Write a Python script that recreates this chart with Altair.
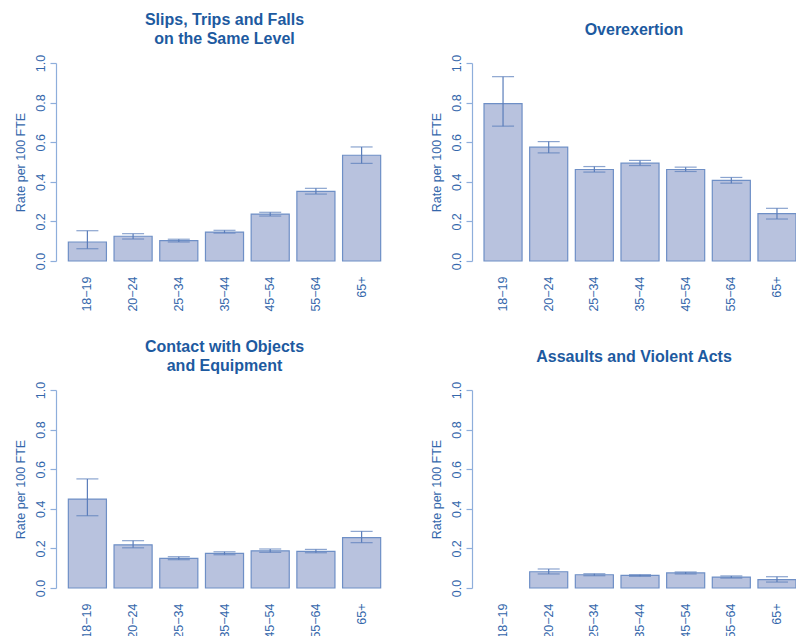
import altair as alt
import pandas as pd

ages = ["18\u221219", "20\u221224", "25\u221234", "35\u221244", "45\u221254", "55\u221264", "65+"]

slips_rate = [0.096, 0.125, 0.103, 0.146, 0.237, 0.352, 0.534]
slips_lo = [0.062, 0.111, 0.096, 0.141, 0.227, 0.338, 0.493]
slips_hi = [0.153, 0.138, 0.110, 0.155, 0.246, 0.367, 0.576]

over_rate = [0.795, 0.575, 0.462, 0.494, 0.462, 0.407, 0.239]
over_lo = [0.681, 0.546, 0.449, 0.482, 0.452, 0.393, 0.212]
over_hi = [0.931, 0.603, 0.477, 0.508, 0.474, 0.422, 0.266]

contact_rate = [0.449, 0.218, 0.150, 0.175, 0.188, 0.185, 0.254]
contact_lo = [0.365, 0.203, 0.143, 0.168, 0.180, 0.178, 0.229]
contact_hi = [0.551, 0.239, 0.158, 0.183, 0.197, 0.195, 0.286]

assault_rate = [None, 0.082, 0.067, 0.064, 0.076, 0.055, 0.042]
assault_lo = [None, 0.071, 0.062, 0.059, 0.071, 0.050, 0.030]
assault_hi = [None, 0.096, 0.072, 0.067, 0.081, 0.061, 0.057]

y_ticks = [0.0, 0.2, 0.4, 0.6, 0.8, 1.0]

titles = [
    ["Slips, Trips and Falls", "on the Same Level"],
    "Overexertion",
    ["Contact with Objects", "and Equipment"],
    "Assaults and Violent Acts",
]

TITLE_COLOR = "#1d5aa0"
LABEL_COLOR = "#3467ab"
AXIS_COLOR = "#8eaedb"
BAR_FILL = "#b8c2de"
BAR_STROKE = "#6e8fc6"
ERR_COLOR = "#5a7dba"
FONT = "Liberation Sans"

X_AXIS = alt.Axis(
    domain=False,
    ticks=False,
    tickSize=0,
    labelAngle=270,
    labelAlign="right",
    labelBaseline="middle",
    labelPadding=15,
    labelFontSize=12.5,
    labelColor=LABEL_COLOR,
    labelFont=FONT,
    labelOverlap=False,
)

Y_AXIS = alt.Axis(
    values=y_ticks,
    format=".1f",
    grid=False,
    domainColor=AXIS_COLOR,
    tickColor=AXIS_COLOR,
    domainWidth=1.2,
    tickWidth=1.2,
    tickSize=6,
    labelAngle=270,
    labelAlign="center",
    labelBaseline="alphabetic",
    labelPadding=5.5,
    labelFontSize=12.5,
    labelColor=LABEL_COLOR,
    labelFont=FONT,
    labelFlush=False,
    labelOverlap=False,
    labelBound=False,
    titleFontSize=12.5,
    titleFontWeight="normal",
    titleColor=LABEL_COLOR,
    titleFont=FONT,
    titleAngle=270,
    titleAlign="center",
    titleBaseline="alphabetic",
    titleX=-31.5,
    titleY=99,
)
Y_TITLE = "Rate per 100 FTE"


def panel(rate, lo, hi, title, left_col, two_line):
    df = pd.DataFrame({"age": ages, "rate": rate, "lo": lo, "hi": hi})
    if left_col:
        xscale = alt.Scale(domain=ages, paddingInner=1 / 6, paddingOuter=0.27)
        w = 337
    else:
        xscale = alt.Scale(domain=ages, paddingInner=1 / 6, paddingOuter=0.1316, align=1)
        w = 324
    x = alt.X("age:N", scale=xscale, title=None, axis=X_AXIS)
    yscale = alt.Scale(domain=[0, 1], nice=False, zero=True)

    def yenc(field):
        return alt.Y(field, type="quantitative", scale=yscale, title=Y_TITLE, axis=Y_AXIS)

    base = alt.Chart(df)
    bars = base.mark_bar(fill=BAR_FILL, stroke=BAR_STROKE, strokeWidth=1.2).encode(
        x=x, y=yenc("rate")
    )
    rule = base.mark_rule(color=ERR_COLOR, strokeWidth=1.2).encode(
        x=x, y=yenc("lo"), y2="hi:Q"
    )
    cap_hi = base.mark_tick(color=ERR_COLOR, size=22, thickness=1.2).encode(
        x=x, y=yenc("hi")
    )
    cap_lo = base.mark_tick(color=ERR_COLOR, size=22, thickness=1.2).encode(
        x=x, y=yenc("lo")
    )
    return alt.layer(bars, rule, cap_hi, cap_lo).properties(
        width=w,
        height=198,
        title=alt.TitleParams(
            text=title,
            fontSize=16,
            fontWeight="bold",
            color=TITLE_COLOR,
            font=FONT,
            anchor="middle",
            frame="group",
            lineHeight=19,
            offset=7 if two_line else 16,
        ),
    )


p1 = panel(slips_rate, slips_lo, slips_hi, titles[0], True, True)
p2 = panel(over_rate, over_lo, over_hi, titles[1], False, False)
p3 = panel(contact_rate, contact_lo, contact_hi, titles[2], True, True)
p4 = panel(assault_rate, assault_lo, assault_hi, titles[3], False, False)

chart = (
    alt.concat(p1, p2, p3, p4, columns=2, spacing={"row": 129, "column": 79}, bounds="flush")
    .resolve_scale(x="independent", y="independent")
    .properties(
        autosize=alt.AutoSizeParams(type="none"),
        padding={"left": 56, "top": 63, "right": 740, "bottom": 573},
        background="white",
    )
    .configure_view(stroke=None)
)

chart.save("out.html", embed_options={"renderer": "svg", "actions": False})
